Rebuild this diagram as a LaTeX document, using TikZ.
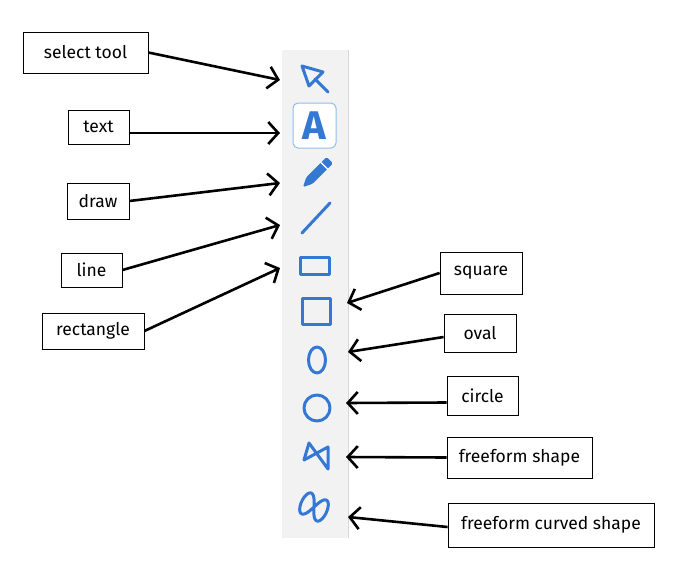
\documentclass[tikz,border=0pt]{standalone}
\usepackage{fontspec}
\setmainfont{Fira Sans}
\usetikzlibrary{arrows.meta}
\definecolor{iconblue}{RGB}{52,120,212}
\definecolor{boxblue}{RGB}{140,190,240}
\definecolor{barfill}{RGB}{242,242,242}
\definecolor{baredge}{RGB}{215,215,215}
\begin{document}
\begin{tikzpicture}[x=1pt,y=-1pt,
  label node/.style={draw,line width=0.8pt,inner sep=0pt,font=\fontsize{17.5}{19}\selectfont},
  pointer/.style={line width=2.6pt,-{Straight Barb[length=10pt,width=22pt,line width=2.6pt]}},
  icon/.style={draw=iconblue,line width=3pt,line join=round,line cap=round}]
\useasboundingbox (0,0) rectangle (689,587);
% toolbar
\fill[barfill] (282,50) rectangle (348,538);
\draw[baredge,line width=1pt] (348,50) -- (348,538);
% labels on the left
\node[label node,minimum width=125,minimum height=41] (l1) at (85.5,52.5) {select tool};
\node[label node,minimum width=61,minimum height=34] (l2) at (98.5,127) {text};
\node[label node,minimum width=62,minimum height=36] (l3) at (98,201) {draw};
\node[label node,minimum width=61,minimum height=34] (l4) at (91.5,270) {line};
\node[label node,minimum width=102,minimum height=36] (l5) at (93,331) {rectangle};
% labels on the right
\node[label node,minimum width=82,minimum height=42] (r1) at (481,273) {square};
\node[label node,minimum width=72,minimum height=38] (r2) at (480,333) {oval};
\node[label node,minimum width=71,minimum height=39] (r3) at (482.5,395.5) {circle};
\node[label node,minimum width=145,minimum height=41] (r4) at (519.5,457.5) {freeform shape};
\node[label node,minimum width=206,minimum height=44] (r5) at (551,525) {freeform curved shape};
% icons
\draw[icon] (302,66) -- (323,72) -- (309,86) -- cycle;
\draw[icon] (315,79) -- (328,92);
\node[draw=boxblue,line width=1pt,rounded corners=5pt,fill=white,minimum width=43,minimum height=45,
  inner sep=0pt,text=iconblue,font=\bfseries\fontsize{40}{40}\selectfont] (a) at (314.5,125.5) {A};
\begin{scope}[shift={(303,187)},rotate=45]
\fill[iconblue,rounded corners=1.5pt] (0,0) -- (9,4.5) -- (38,4.5) -- (38,-4.5) -- (9,-4.5) -- cycle;
\draw[white,line width=1.2pt] (30,-5) -- (30,5);
\end{scope}
\draw[icon] (302,233) -- (330,203);
\draw[icon] (300.5,257.5) rectangle (329.5,274.5);
\draw[icon] (302.5,298.5) rectangle (330.5,324.5);
\draw[icon] (317,360) ellipse [x radius=8.5,y radius=13];
\draw[icon] (317,408) circle [radius=13];
\draw[icon] (304,460) -- (309,443) -- (328,469) -- (328,447) -- cycle;
\draw[icon,rotate around={-25:(314,507)}] plot[domain=0:360,samples=80,smooth]
  ({314+13.5*cos(\x)/(1+sin(\x)^2)},{507+2.4*13.5*sin(\x)*cos(\x)/(1+sin(\x)^2)});
% arrow ends
\coordinate (t1) at (280,80);
\coordinate (t2) at (280,133);
\coordinate (t3) at (280,183);
\coordinate (t4) at (280,225);
\coordinate (t5) at (280,268);
\coordinate (t6) at (347,303);
\coordinate (t7) at (348,352);
\coordinate (t8) at (346,403);
\coordinate (t9) at (346,457);
\coordinate (t10) at (348,517);
% arrows
\draw[pointer] (l1.east) -- (t1);
\draw[pointer] ([yshift=-6pt]l2.east) -- (t2);
\draw[pointer] (l3.east) -- (t3);
\draw[pointer] (l4.east) -- (t4);
\draw[pointer] (l5.east) -- (t5);
\draw[pointer] (r1.west) -- (t6);
\draw[pointer] ([yshift=-4pt]r2.west) -- (t7);
\draw[pointer] ([yshift=-7pt]r3.west) -- (t8);
\draw[pointer] (r4.west) -- (t9);
\draw[pointer] ([yshift=-2pt]r5.west) -- (t10);
\end{tikzpicture}
\end{document}
